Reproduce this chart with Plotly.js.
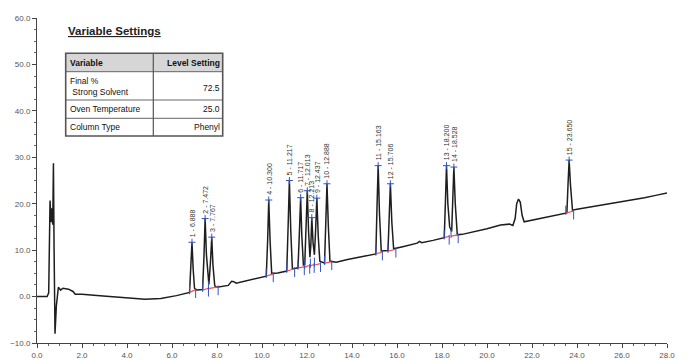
<!DOCTYPE html>
<html><head><meta charset="utf-8">
<script src="https://cdn.plot.ly/plotly-3.0.1.min.js"></script>
<style>html,body{margin:0;padding:0;background:#fff}#chart{width:689px;height:361px}</style>
</head><body><div id="chart"></div>
<script>
// chromatogram signal (time in min, response)
const timeMin = [0,0.45,0.52,0.58,0.62,0.66,0.7,0.73,0.76,0.8,0.86,0.95,1.05,1.15,1.4,1.6,1.7,2.0,2.8,3.7,4.8,5.5,6.2,6.78,
 6.84,6.888,6.94,7.0,7.1,7.36,7.42,7.472,7.53,7.6,7.64,7.71,7.767,7.82,7.9,8.0,8.5,8.65,8.75,8.85,9.2,9.6,10.0,
 10.19,10.25,10.3,10.36,10.43,10.7,11.0,11.1,11.16,11.217,11.28,11.35,11.5,11.6,11.66,11.717,11.77,11.84,11.9,11.96,12.013,12.07,12.13,
 12.17,12.213,12.27,12.33,12.38,12.437,12.5,12.57,12.78,12.84,12.888,12.95,13.02,13.3,13.8,14.36,14.8,
 15.06,15.11,15.163,15.22,15.3,15.6,15.66,15.706,15.77,15.85,16.3,16.9,17.0,17.1,17.6,18.05,
 18.1,18.15,18.2,18.26,18.34,18.43,18.48,18.528,18.59,18.68,18.9,19.5,20.0,20.6,21.0,21.15,21.25,21.32,21.4,21.48,21.56,21.65,21.75,22.2,22.8,23.45,
 23.55,23.6,23.65,23.71,23.8,24.0,24.5,25.0,25.5,26.0,26.5,27.0,27.5,28.0];
const signal = [0,0,0.8,20.7,16.0,19.0,15.5,28.7,10.0,-8.0,-2.0,2.0,1.4,1.8,1.6,1.1,0.5,0.5,0.2,-0.2,-0.6,-0.4,0.2,0.9,
 5.5,11.7,6.0,1.8,1.4,1.5,8.5,16.8,9.0,3.5,2.6,7.5,12.8,6.8,2.3,2.0,2.4,3.3,3.2,2.9,3.3,3.8,4.2,
 4.4,12.0,20.8,12.0,5.0,5.1,5.4,5.5,15.0,25.0,14.0,6.0,6.1,6.2,13.5,21.3,13.0,6.8,6.9,14.5,22.8,14.0,8.5,
 11.0,17.0,11.5,9.0,14.0,21.2,13.0,7.6,7.2,16.0,24.3,15.0,7.6,7.4,8.0,8.5,9.0,
 9.2,19.0,28.2,18.0,9.8,9.9,17.0,24.3,16.0,10.3,10.8,11.5,11.9,11.6,12.1,12.6,
 12.7,20.0,28.2,20.0,15.0,14.0,20.0,27.9,20.0,13.3,13.4,14.0,14.6,15.4,15.6,15.3,16.8,20.0,21.0,20.3,17.5,16.1,16.2,16.8,17.4,17.9,
 18.0,24.0,29.4,24.0,18.6,18.8,19.2,19.6,20.0,20.4,20.9,21.3,21.8,22.3];

// integrated peaks
const peakNum   = [1,2,3,4,5,6,7,8,9,10,11,12,13,14,15];
const peakRT    = [6.888,7.472,7.767,10.300,11.217,11.717,12.013,12.213,12.437,12.888,15.163,15.706,18.200,18.528,23.650];
const peakApex  = [11.7,16.8,12.8,20.8,25.0,21.3,22.8,17.0,21.2,24.3,28.2,24.3,28.2,27.9,29.4];
const peakStart = [6.78,7.36,7.62,10.19,11.1,11.6,11.9,12.15,12.33,12.78,15.06,15.6,18.1,18.4,23.5];
const peakStartV= [0.9,1.4,1.7,4.4,5.5,6.2,6.4,6.6,6.8,7.2,9.2,9.8,12.7,13.0,18.0];
const peakEnd   = [7.05,7.62,8.05,10.5,11.45,11.88,12.12,12.32,12.6,13.1,15.35,15.95,18.32,18.72,23.85];
const peakEndV  = [1.5,1.8,2.1,4.9,6.0,6.4,6.7,6.9,7.1,7.5,9.6,10.2,13.0,13.3,18.4];

// settings table
const tableHead = ['Variable','Level Setting'];
const tableVars = ['Final %<br> Strong Solvent','Oven Temperature','Column Type'];
const tableVals = ['72.5','25.0','Phenyl'];

const xTicks = [0,2,4,6,8,10,12,14,16,18,20,22,24,26,28];

// build helper traces
const redX=[],redY=[],blueX=[],blueY=[];
for(let i=0;i<peakNum.length;i++){
  redX.push(peakStart[i],peakEnd[i],null); redY.push(peakStartV[i],peakEndV[i],null);
  blueX.push(peakStart[i],peakStart[i],null); blueY.push(peakStartV[i]-0.4,peakStartV[i]+1.6,null);
  blueX.push(peakEnd[i],peakEnd[i],null); blueY.push(peakEndV[i]+0.3,peakEndV[i]-1.8,null);
}
const traces = [
 {x:timeMin,y:signal,mode:'lines',line:{color:'#1e1e1e',width:1.5},hoverinfo:'skip'},
 {x:redX,y:redY,mode:'lines',line:{color:'#ff4a4a',width:1.2},hoverinfo:'skip'},
 {x:blueX,y:blueY,mode:'lines',line:{color:'#3355bb',width:1},hoverinfo:'skip'},
 {x:peakRT,y:peakApex,mode:'markers',marker:{symbol:'cross-thin',size:5,line:{color:'#3355bb',width:1}},hoverinfo:'skip'}
];

const X = px => (px-37)/630, Y = py => (343-py)/325;
const annotations = peakNum.map((n,i)=>({x:peakRT[i],y:peakApex[i],xref:'x',yref:'y',text:n+' - '+peakRT[i].toFixed(3),
  textangle:-90,showarrow:false,xanchor:'center',yanchor:'bottom',yshift:3,font:{family:'Liberation Sans, Arial',size:7,color:'#333'}}));
const tf = {family:'Liberation Sans, Arial',size:8.5,color:'#111'};
annotations.push({xref:'paper',yref:'paper',x:X(66),y:Y(31),xanchor:'left',yanchor:'middle',showarrow:false,
  text:'<b><u>Variable Settings</u></b>',font:{family:'Liberation Sans, Arial',size:11.5,color:'#222'}});
annotations.push({xref:'paper',yref:'paper',x:X(68),y:Y(62.5),xanchor:'left',yanchor:'middle',showarrow:false,text:'<b>'+tableHead[0]+'</b>',font:tf});
annotations.push({xref:'paper',yref:'paper',x:X(221.5),y:Y(62.5),xanchor:'right',yanchor:'middle',showarrow:false,text:'<b>'+tableHead[1]+'</b>',font:tf});
const rowMid=[86,109.5,127.5], valMid=[88,109.5,127.5];
tableVars.forEach((v,i)=>{
  annotations.push({xref:'paper',yref:'paper',x:X(68),y:Y(rowMid[i]),xanchor:'left',yanchor:'middle',align:'left',showarrow:false,text:v,font:tf});
  annotations.push({xref:'paper',yref:'paper',x:X(221.5),y:Y(valMid[i]),xanchor:'right',yanchor:'middle',showarrow:false,text:tableVals[i],font:tf});
});
const L=65.7,R=222.7,T=53.3,B=136,HB=71.7,C=153.3;
const shapes=[
 {type:'rect',xref:'paper',yref:'paper',x0:X(L),x1:X(R),y0:Y(T),y1:Y(HB),fillcolor:'#d6d6d6',line:{width:0},layer:'below'},
 {type:'line',xref:'paper',yref:'paper',x0:X(L),x1:X(R),y0:Y(HB),y1:Y(HB),line:{color:'#666',width:1}},
 {type:'line',xref:'paper',yref:'paper',x0:X(L),x1:X(R),y0:Y(100),y1:Y(100),line:{color:'#666',width:1}},
 {type:'line',xref:'paper',yref:'paper',x0:X(L),x1:X(R),y0:Y(118.3),y1:Y(118.3),line:{color:'#666',width:1}},
 {type:'line',xref:'paper',yref:'paper',x0:X(C),x1:X(C),y0:Y(T),y1:Y(B),line:{color:'#555',width:1.2}},
 {type:'rect',xref:'paper',yref:'paper',x0:X(L),x1:X(R),y0:Y(T),y1:Y(B),line:{color:'#555',width:1.6}}
];
const axf = {family:'Liberation Sans Narrow, Liberation Sans, Arial',size:8,color:'#555'};
const layout = {
 width:689,height:361,margin:{l:37,r:22,t:18,b:18},paper_bgcolor:'#fff',plot_bgcolor:'#fff',showlegend:false,
 xaxis:{range:[0,28],tickvals:xTicks,tickformat:'.1f',ticks:'outside',ticklen:4,tickcolor:'#444',showline:true,linecolor:'#444',linewidth:1,
   showgrid:false,zeroline:false,tickfont:axf,minor:{dtick:0.5,ticks:'outside',ticklen:2,tickcolor:'#666'}},
 yaxis:{range:[-10,60],dtick:10,tickformat:'.1f',ticks:'outside',ticklen:4,tickcolor:'#444',showline:true,linecolor:'#444',linewidth:1,
   showgrid:false,zeroline:false,tickfont:axf,minor:{dtick:2.5,ticks:'outside',ticklen:2,tickcolor:'#666'}},
 annotations:annotations,shapes:shapes
};
Plotly.newPlot('chart',traces,layout,{staticPlot:true,displayModeBar:false});
</script></body></html>
